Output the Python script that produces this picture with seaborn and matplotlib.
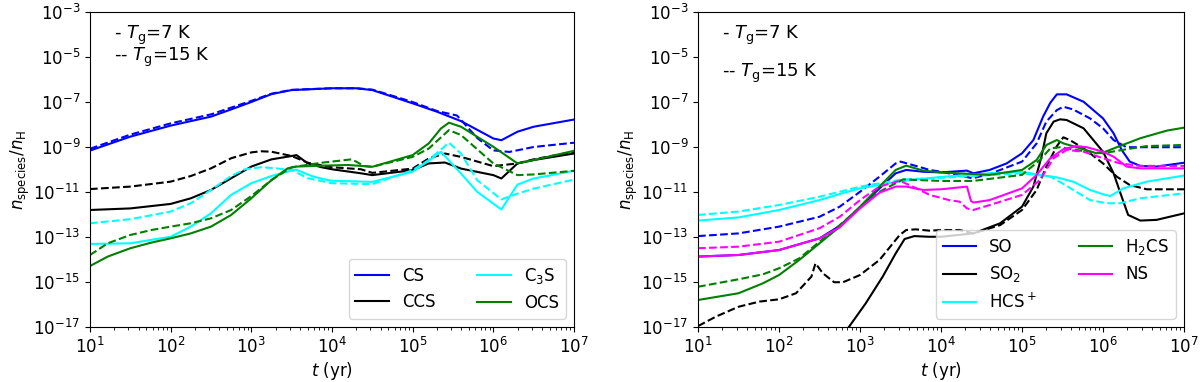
import numpy as np
import pandas as pd
import matplotlib.pyplot as plt
import seaborn as sns

plt.rcParams['font.size'] = 12
plt.rcParams['mathtext.fontset'] = 'dejavusans'

# log10(t / yr) and log10(n_species / n_H)
# ---- left panel ----
cs_t7 = [1, 1.5, 2, 2.5, 2.75, 3, 3.25, 3.5, 4, 4.3, 4.5, 5, 5.3, 5.6, 6, 6.1, 6.3, 6.5, 7]
cs_n7 = [-9.16, -8.54, -8.05, -7.65, -7.33, -7.0, -6.65, -6.47, -6.39, -6.39, -6.47, -7.06, -7.43, -7.85, -8.62, -8.70, -8.32, -8.1, -7.78]
cs_t15 = [1, 1.5, 2, 2.5, 3, 3.25, 3.5, 4, 4.3, 4.5, 5, 5.3, 5.55, 5.8, 6, 6.2, 6.5, 7]
cs_n15 = [-9.08, -8.45, -7.95, -7.55, -6.95, -6.63, -6.46, -6.39, -6.39, -6.45, -7.0, -7.4, -7.6, -8.6, -9.15, -9.22, -9.0, -8.81]

ccs_t7 = [1, 1.5, 2, 2.25, 2.5, 2.75, 3, 3.25, 3.5, 3.56, 3.7, 3.87, 4, 4.36, 4.5, 5, 5.2, 5.4, 5.6, 6, 6.1, 6.3, 6.5, 7]
ccs_n7 = [-11.80, -11.73, -11.53, -11.28, -10.91, -10.39, -9.87, -9.55, -9.40, -9.36, -9.73, -9.9, -9.99, -10.17, -10.25, -10.03, -9.73, -9.69, -9.96, -10.25, -10.4, -9.73, -9.58, -9.29]
ccs_t15 = [1, 1.5, 2, 2.25, 2.5, 2.75, 3, 3.12, 3.25, 3.5, 3.7, 4, 4.36, 4.5, 5, 5.2, 5.4, 5.6, 6, 6.3, 6.5, 7]
ccs_n15 = [-10.87, -10.76, -10.54, -10.29, -9.95, -9.5, -9.24, -9.19, -9.21, -9.40, -9.70, -9.90, -9.99, -10.15, -9.96, -9.51, -9.29, -9.44, -9.85, -9.73, -9.55, -9.21]

c3s_t7 = [1, 1.5, 2, 2.25, 2.5, 2.75, 3, 3.25, 3.55, 3.75, 3.9, 4, 4.5, 5, 5.2, 5.35, 5.6, 5.8, 6.1, 6.3, 6.5, 7]
c3s_n7 = [-13.31, -13.28, -12.99, -12.54, -11.95, -11.13, -10.61, -10.29, -10.0, -10.29, -10.44, -10.5, -10.55, -10.10, -9.61, -9.21, -10.18, -10.99, -11.78, -10.67, -10.4, -10.06]
c3s_t15 = [1, 1.5, 2, 2.25, 2.5, 2.75, 2.92, 3.12, 3.25, 3.5, 3.7, 4, 4.5, 5, 5.2, 5.45, 5.6, 5.8, 6.1, 6.3, 6.5, 7]
c3s_n15 = [-12.39, -12.21, -11.87, -11.5, -10.91, -10.29, -9.99, -9.90, -9.93, -10.02, -10.39, -10.61, -10.65, -10.03, -9.58, -8.81, -9.29, -10.47, -11.33, -11.07, -10.85, -10.45]

ocs_t7 = [1, 1.22, 1.5, 1.76, 2, 2.25, 2.5, 2.75, 3, 3.25, 3.45, 3.56, 3.87, 4.2, 4.4, 4.5, 5, 5.2, 5.35, 5.45, 5.6, 6, 6.3, 6.5, 7]
ocs_n7 = [-14.29, -13.87, -13.50, -13.25, -13.06, -12.84, -12.54, -12.02, -11.28, -10.47, -9.95, -9.87, -9.83, -9.8, -9.85, -9.88, -9.36, -8.84, -8.18, -7.92, -8.1, -8.99, -9.73, -9.58, -9.17]
ocs_t15 = [1, 1.22, 1.5, 1.76, 2, 2.25, 2.5, 2.75, 3, 3.25, 3.5, 3.87, 4.24, 4.3, 4.4, 4.5, 5, 5.2, 5.45, 5.6, 6, 6.3, 6.5, 7]
ocs_n15 = [-13.80, -13.28, -12.91, -12.69, -12.54, -12.39, -12.17, -11.8, -11.18, -10.47, -9.90, -9.70, -9.55, -9.65, -9.85, -9.88, -9.44, -9.07, -8.25, -8.47, -9.73, -10.25, -10.22, -10.06]

# ---- right panel ----
so_t7 = [1, 1.5, 2, 2.5, 2.75, 3, 3.24, 3.44, 3.57, 3.78, 4, 4.32, 4.4, 4.6, 4.81, 5, 5.14, 5.26, 5.35, 5.43, 5.55, 5.76, 6, 6.13, 6.23, 6.33, 6.46, 6.66, 7]
so_n7 = [-13.87, -13.8, -13.58, -13.06, -12.5, -11.68, -10.84, -10.17, -10.02, -10.1, -10.13, -10.05, -10.17, -10.02, -9.73, -9.28, -8.69, -7.65, -7.03, -6.66, -6.66, -6.99, -7.73, -8.39, -9.13, -9.65, -9.84, -9.87, -9.7]
so_t15 = [1, 1.5, 2, 2.5, 2.75, 3, 3.24, 3.44, 3.5, 3.65, 3.86, 4, 4.39, 4.6, 5, 5.18, 5.30, 5.43, 5.51, 5.63, 5.84, 6, 6.13, 6.29, 6.5, 7]
so_n15 = [-12.96, -12.84, -12.54, -12.1, -11.65, -10.99, -10.32, -9.73, -9.65, -9.8, -10.02, -10.1, -10.39, -10.2, -9.65, -8.84, -7.87, -7.36, -7.21, -7.33, -7.73, -8.17, -8.69, -9.01, -9.01, -9.01]

so2_t7 = [2.8, 2.87, 3.07, 3.28, 3.44, 3.55, 3.67, 3.85, 4, 4.4, 4.73, 5, 5.14, 5.24, 5.3, 5.39, 5.47, 5.55, 5.76, 6, 6.13, 6.23, 6.31, 6.46, 6.66, 7]
so2_n7 = [-17.3, -16.96, -15.95, -14.76, -13.73, -13.09, -12.96, -12.99, -12.99, -12.84, -12.39, -11.65, -10.76, -9.43, -8.39, -7.87, -7.77, -7.8, -8.17, -9.21, -10.17, -11.21, -12.02, -12.27, -12.24, -11.95]
so2_t15 = [1, 1.22, 1.5, 1.76, 2, 2.21, 2.40, 2.45, 2.54, 2.68, 2.79, 3, 3.24, 3.49, 3.57, 3.69, 3.86, 4, 4.23, 4.4, 4.73, 5, 5.18, 5.3, 5.43, 5.51, 5.59, 5.76, 6, 6.17, 6.33, 6.54, 7]
so2_n15 = [-16.96, -16.54, -16.1, -15.87, -15.77, -15.5, -14.76, -14.17, -14.61, -15.01, -15.01, -14.69, -14.02, -12.91, -12.69, -12.66, -12.72, -12.69, -12.69, -12.84, -12.47, -11.8, -10.91, -9.87, -8.96, -8.57, -8.69, -9.06, -9.73, -10.32, -10.69, -10.88, -10.88]

hcs_t7 = [1, 1.5, 2, 2.5, 2.75, 3, 3.24, 3.53, 4, 4.6, 5, 5.22, 5.43, 5.63, 5.84, 6, 6.09, 6.25, 6.54, 7]
hcs_n7 = [-12.27, -12.13, -11.8, -11.36, -11.09, -10.84, -10.69, -10.51, -10.33, -10.17, -10.1, -10.24, -10.35, -10.54, -10.91, -11.1, -11.18, -10.84, -10.54, -10.27]
hcs_t15 = [1, 1.5, 2, 2.5, 2.75, 3, 3.53, 4, 5, 5.35, 5.51, 5.67, 5.84, 6.05, 6.21, 6.46, 7]
hcs_n15 = [-12.02, -11.87, -11.58, -11.21, -10.99, -10.76, -10.44, -10.37, -10.17, -10.32, -10.64, -10.99, -11.36, -11.5, -11.5, -11.28, -11.06]

h2cs_t7 = [1, 1.5, 1.8, 2, 2.25, 2.5, 2.75, 3, 3.24, 3.44, 3.57, 3.78, 4, 4.6, 5, 5.18, 5.3, 5.43, 5.51, 5.72, 5.92, 6, 6.17, 6.46, 6.79, 7]
h2cs_n7 = [-15.8, -15.5, -15.06, -14.69, -14.02, -13.28, -12.54, -11.65, -10.76, -10.02, -9.83, -10.05, -10.13, -10.24, -10.02, -9.58, -8.91, -8.69, -8.84, -9.06, -9.28, -9.25, -9.01, -8.61, -8.27, -8.14]
h2cs_t15 = [1, 1.5, 1.8, 2, 2.25, 2.5, 2.75, 3, 3.24, 3.53, 4, 4.39, 5, 5.22, 5.35, 5.47, 5.72, 6, 6.29, 6.54, 7]
h2cs_n15 = [-15.21, -14.88, -14.66, -14.39, -13.95, -13.21, -12.47, -11.68, -10.99, -10.44, -10.51, -10.51, -10.24, -9.58, -9.06, -9.01, -9.16, -9.28, -9.1, -8.96, -8.91]

ns_t7 = [1, 1.5, 2, 2.5, 2.75, 3, 3.24, 3.44, 3.57, 3.78, 4, 4.32, 4.37, 4.4, 4.6, 5, 5.18, 5.35, 5.51, 5.67, 5.8, 6, 6.13, 6.29, 6.46, 7]
ns_n7 = [-13.87, -13.8, -13.58, -13.06, -12.57, -11.73, -11.03, -10.76, -10.76, -10.91, -10.88, -10.76, -11.4, -11.47, -11.36, -10.84, -10.24, -9.5, -9.1, -8.96, -9.01, -9.21, -9.43, -9.87, -9.95, -9.95]
ns_t15 = [1, 1.5, 2, 2.5, 2.75, 3, 3.24, 3.49, 3.65, 3.86, 4.1, 4.23, 4.32, 4.4, 4.6, 5, 5.22, 5.39, 5.55, 5.76, 6, 6.21, 6.46, 7]
ns_n15 = [-13.5, -13.43, -13.21, -12.61, -12.1, -11.36, -10.76, -10.5, -10.76, -11.13, -11.36, -11.43, -11.73, -11.8, -11.58, -11.13, -10.47, -9.5, -9.13, -9.21, -9.5, -9.73, -9.84, -9.84]

left_species = [
    ('CS', 'blue', cs_t7, cs_n7, cs_t15, cs_n15),
    ('CCS', 'black', ccs_t7, ccs_n7, ccs_t15, ccs_n15),
    (r'C$_3$S', 'cyan', c3s_t7, c3s_n7, c3s_t15, c3s_n15),
    ('OCS', 'green', ocs_t7, ocs_n7, ocs_t15, ocs_n15),
]
right_species = [
    ('SO', 'blue', so_t7, so_n7, so_t15, so_n15),
    (r'SO$_2$', 'black', so2_t7, so2_n7, so2_t15, so2_n15),
    (r'HCS$^+$', 'cyan', hcs_t7, hcs_n7, hcs_t15, hcs_n15),
    (r'H$_2$CS', 'green', h2cs_t7, h2cs_n7, h2cs_t15, h2cs_n15),
    ('NS', 'magenta', ns_t7, ns_n7, ns_t15, ns_n15),
]

fig = plt.figure(figsize=(12, 3.82), dpi=100)
ax1 = fig.add_axes([0.075, 0.144, 0.4033, 0.8246])
ax2 = fig.add_axes([0.5817, 0.144, 0.405, 0.8246])


def draw_panel(ax, species, text_y):
    for name, col, t7, n7, t15, n15 in species:
        sns.lineplot(x=10.0 ** np.array(t7), y=10.0 ** np.array(n7), color=col,
                     lw=1.5, label=name, ax=ax, sort=False)
        sns.lineplot(x=10.0 ** np.array(t15), y=10.0 ** np.array(n15), color=col,
                     lw=1.5, linestyle='--', ax=ax, sort=False)
    ax.set_xscale('log')
    ax.set_yscale('log')
    ax.set_xlim(1e1, 1e7)
    ax.set_ylim(1e-17, 1e-3)
    ax.set_yticks(10.0 ** np.arange(-17, -2, 2))
    ax.yaxis.set_minor_locator(plt.NullLocator())
    ax.tick_params(labelsize=12)
    ax.set_xlabel(r'$t$ (yr)', fontsize=12, labelpad=2)
    ax.set_ylabel(r'$n_{\rm species}/n_{\rm H}$', fontsize=12, labelpad=1)
    ax.text(0.05, text_y[0], r'- $T_{\rm g}$=7 K', transform=ax.transAxes, va='center', fontsize=13)
    ax.text(0.05, text_y[1], r'-- $T_{\rm g}$=15 K', transform=ax.transAxes, va='center', fontsize=13)
    ax.legend(loc='lower right', ncol=2, fontsize=12, columnspacing=2.5)


draw_panel(ax1, left_species, (0.927, 0.856))
draw_panel(ax2, right_species, (0.927, 0.805))

fig.savefig('out.png', dpi=100)
